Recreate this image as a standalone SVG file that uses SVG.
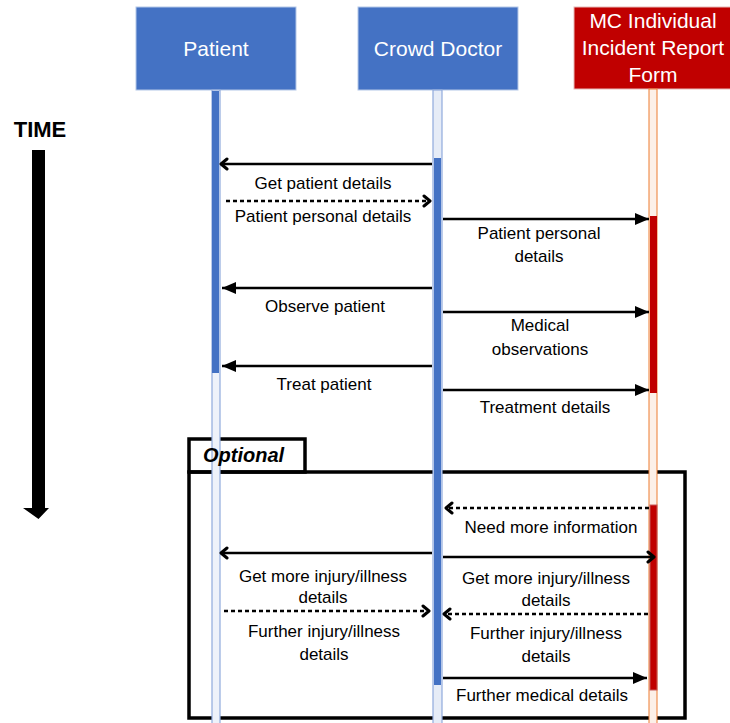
<svg xmlns="http://www.w3.org/2000/svg" width="730" height="723" viewBox="0 0 730 723">
  <style>
    .hdr { font-family: "Liberation Sans", Arial, sans-serif; font-size: 21px; fill: #ffffff; text-anchor: middle; }
    .lbl { font-family: "Liberation Sans", Arial, sans-serif; font-size: 17px; fill: #000000; text-anchor: middle; }
    .msg { stroke: #000000; stroke-width: 2.5; fill: none; }
    .dash { stroke-dasharray: 4 3; }
    .life-blue { fill: #EEF2FA; stroke: #8FAADC; stroke-width: 1.2; }
    .life-red { fill: #FCF0E8; stroke: #ED7D31; stroke-width: 1; }
    .act-blue { fill: #4472C4; }
    .act-red { fill: #C00000; }
    .frame { fill: none; stroke: #000000; stroke-width: 3.5; }
  </style>
  <defs>
    <marker id="tri" markerUnits="userSpaceOnUse" markerWidth="16" markerHeight="14" viewBox="-15 -7 16 14" refX="0" refY="0" orient="auto">
      <path d="M-14,-6 L0,0 L-14,6 Z" fill="#000000"/>
    </marker>
    <marker id="chev" markerUnits="userSpaceOnUse" markerWidth="12" markerHeight="14" viewBox="-9 -7 12 14" refX="0" refY="0" orient="auto">
      <path d="M-6,-5 L0,0 L-6,5" fill="none" stroke="#000000" stroke-width="3" stroke-linecap="round" stroke-linejoin="round"/>
    </marker>
  </defs>

  <rect width="730" height="723" fill="#ffffff"/>

  <!-- time axis -->
  <g id="time">
    <text x="40" y="137" font-family="Liberation Sans, Arial, sans-serif" font-size="22" font-weight="bold" text-anchor="middle">TIME</text>
    <path d="M32,150 H45 V508 H49 L38.5,519 L23,508 H32 Z" fill="#000000"/>
  </g>

  <!-- optional fragment frame -->
  <g id="optional">
    <rect class="frame" x="189" y="439" width="116" height="33"/>
    <rect class="frame" x="189" y="472" width="496" height="246"/>
  </g>

  <!-- participants with lifelines and activations -->
  <g id="patient">
    <rect x="136" y="7" width="160" height="83" fill="#4472C4" stroke="#B4C7E7" stroke-width="1"/>
    <text class="hdr" x="216" y="56">Patient</text>
    <rect class="life-blue" x="212" y="90" width="8" height="640"/>
    <rect class="act-blue" x="212" y="91" width="7" height="282"/>
  </g>

  <g id="crowd-doctor">
    <rect x="358" y="7" width="160" height="83" fill="#4472C4" stroke="#B4C7E7" stroke-width="1"/>
    <text class="hdr" x="438" y="56">Crowd Doctor</text>
    <rect class="life-blue" x="433" y="90" width="9" height="640" style="fill:#E6ECF7"/>
    <rect class="act-blue" x="434" y="158" width="7" height="527"/>
  </g>

  <g id="report-form">
    <rect x="574" y="7" width="160" height="82" fill="#C00000" stroke="#E6B9B8" stroke-width="1"/>
    <text class="hdr" x="653" y="28">MC Individual</text>
    <text class="hdr" x="653" y="55">Incident Report</text>
    <text class="hdr" x="653" y="82">Form</text>
    <rect class="life-red" x="649" y="89" width="8" height="640"/>
    <rect class="act-red" x="650" y="216" width="7" height="177"/>
    <rect class="act-red" x="650" y="505" width="7" height="185" stroke="#C55A5A" stroke-width="1"/>
  </g>

  <!-- fragment caption -->
  <g id="optional-label">
    <text x="203" y="462" font-family="Liberation Sans, Arial, sans-serif" font-size="20" font-weight="bold" font-style="italic">Optional</text>
  </g>

  <!-- messages -->
  <g id="connectors">
    <line class="msg" x1="432" y1="164" x2="221" y2="164" marker-end="url(#chev)"/>
    <line class="msg dash" x1="226" y1="201" x2="430" y2="201" marker-end="url(#chev)"/>
    <line class="msg" x1="443" y1="219" x2="649" y2="219" marker-end="url(#tri)"/>
    <line class="msg" x1="432" y1="288" x2="222" y2="288" marker-end="url(#tri)"/>
    <line class="msg" x1="443" y1="312" x2="649" y2="312" marker-end="url(#tri)"/>
    <line class="msg" x1="432" y1="366" x2="222" y2="366" marker-end="url(#tri)"/>
    <line class="msg" x1="443" y1="390" x2="649" y2="390" marker-end="url(#tri)"/>
    <line class="msg dash" x1="649" y1="508" x2="446" y2="508" marker-end="url(#chev)"/>
    <line class="msg" x1="432" y1="553" x2="221" y2="553" marker-end="url(#chev)"/>
    <line class="msg" x1="443" y1="557" x2="654" y2="557" marker-end="url(#chev)"/>
    <line class="msg dash" x1="224" y1="611" x2="429" y2="611" marker-end="url(#chev)"/>
    <line class="msg dash" x1="648" y1="614" x2="444" y2="614" marker-end="url(#chev)"/>
    <line class="msg" x1="443" y1="678" x2="647" y2="678" marker-end="url(#tri)"/>
  </g>

  <!-- message labels -->
  <g id="labels">
    <text class="lbl" x="323" y="189">Get patient details</text>
    <text class="lbl" x="323" y="222">Patient personal details</text>
    <text class="lbl" x="539" y="239">Patient personal</text>
    <text class="lbl" x="539" y="262">details</text>
    <text class="lbl" x="325" y="312">Observe patient</text>
    <text class="lbl" x="540" y="331">Medical</text>
    <text class="lbl" x="540" y="355">observations</text>
    <text class="lbl" x="324" y="390">Treat patient</text>
    <text class="lbl" x="545" y="413">Treatment details</text>
    <text class="lbl" x="551" y="533">Need more information</text>
    <text class="lbl" x="323" y="582">Get more injury/illness</text>
    <text class="lbl" x="323" y="603">details</text>
    <text class="lbl" x="546" y="584">Get more injury/illness</text>
    <text class="lbl" x="546" y="606">details</text>
    <text class="lbl" x="324" y="637">Further injury/illness</text>
    <text class="lbl" x="324" y="660">details</text>
    <text class="lbl" x="546" y="639">Further injury/illness</text>
    <text class="lbl" x="546" y="662">details</text>
    <text class="lbl" x="542" y="701">Further medical details</text>
  </g>
</svg>
